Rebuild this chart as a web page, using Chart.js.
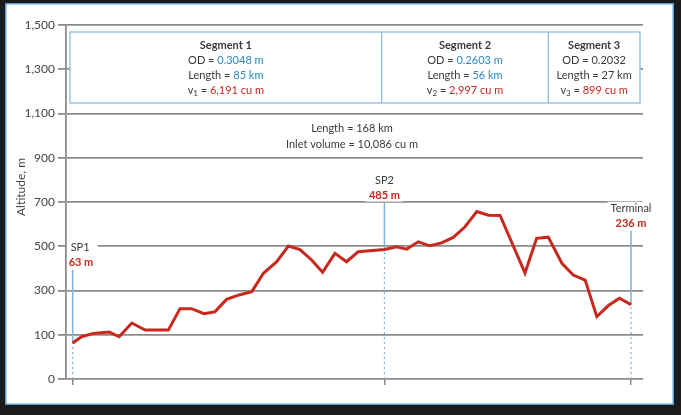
<!DOCTYPE html>
<html>
<head>
<meta charset="utf-8">
<script src="https://cdn.jsdelivr.net/npm/chart.js@4.4.1/dist/chart.umd.min.js"></script>
<style>
    html, body { margin: 0; padding: 0; background: #fff; }
    #wrap { width: 681px; height: 415px; }
</style>
</head>
<body>
<div id="wrap"><canvas id="profileChart" width="681" height="415"></canvas></div>
<script>
// profile position along the drawing (SP1 = 0, terminal = 168) and altitude in m
const profileX = [0, 2.7, 6.2, 11.0, 14.0, 17.8, 21.8, 28.8, 32.3, 35.8, 39.5, 42.8, 46.3, 50.1, 53.9,
    57.4, 61.4, 64.9, 68.4, 71.9, 75.2, 78.9, 82.4, 85.9, 93.8, 97.5, 100.5, 104.0, 107.5, 111.0,
    114.5, 118.0, 121.6, 125.1, 128.6, 136.1, 139.6, 143.1, 147.2, 150.6, 154.2, 157.7, 161.2, 164.5, 168];
const altitude = [63, 91, 106, 112, 91, 153, 121, 121, 218, 218, 195, 204, 260, 280, 295,
    378, 430, 501, 485, 438, 382, 468, 430, 475, 485, 498, 487, 520, 502, 515,
    540, 587, 657, 640, 639, 379, 536, 541, 423, 370, 347, 182, 232, 265, 236];

const stationX = [0, 93.8, 168];
const stationAlt = [63, 485, 236];
const stationName = ['SP1', 'SP2', 'Terminal'];

const yTickLabels = ['0', '100', '300', '500', '700', '900', '1,100', '1,300', '1,500'];

const segName = ['Segment 1', 'Segment 2', 'Segment 3'];
const segOD = ['0.3048 m', '0.2603 m', '0.2032'];
const segLength = [85, 56, 27];
const segVolume = ['6,191', '2,997', '899'];
const totalLength = 168;
const inletVolume = '10,086';

const FONT = 'Lato, "Open Sans", sans-serif';
const DARK = '#3a3a3a';
const BLUE = '#2b88c2';
const RED = '#c8291f';
const STEM = '#7fb2d8';
const GRID = '#8c8c8c';

// parts: [text, colour, isSubscript]
function drawParts(ctx, parts, cx, cy, weight) {
    const fontFor = p => (weight || 'normal') + (p[2] ? ' 8px ' : ' 11px ') + FONT;
    ctx.textAlign = 'left';
    ctx.textBaseline = 'middle';
    const widths = parts.map(p => { ctx.font = fontFor(p); return ctx.measureText(p[0]).width; });
    let x = cx - widths.reduce((a, b) => a + b, 0) / 2;
    parts.forEach((p, i) => {
        ctx.font = fontFor(p);
        ctx.fillStyle = p[1];
        ctx.fillText(p[0], x, p[2] ? cy + 3 : cy);
        x += widths[i];
    });
}

const profileDecor = {
    id: 'profileDecor',
    beforeDraw(chart) {
        const ctx = chart.ctx;
        ctx.save();
        ctx.fillStyle = '#1b1b1b';
        ctx.fillRect(0, 0, chart.width, chart.height);
        ctx.fillStyle = '#fff';
        ctx.fillRect(5, 3, 669, 402);
        ctx.strokeStyle = '#5f9dd3';
        ctx.lineWidth = 1.5;
        ctx.strokeRect(5.75, 3.75, 667.5, 400.5);
        ctx.restore();
    },
    beforeDatasetsDraw(chart) {
        const ctx = chart.ctx;
        const xs = chart.scales.x, ys = chart.scales.y;
        const area = chart.chartArea;
        ctx.save();

        // segment table
        const box = { left: 70, right: 640, top: 32, bottom: 103 };
        const cols = [box.left, 381.7, 548.3, box.right];
        ctx.fillStyle = '#fff';
        ctx.fillRect(box.left, box.top, box.right - box.left, box.bottom - box.top);
        ctx.strokeStyle = '#8dbbdc';
        ctx.lineWidth = 1.3;
        ctx.strokeRect(box.left, box.top, box.right - box.left, box.bottom - box.top);
        ctx.beginPath();
        cols.slice(1, 3).forEach(c => { ctx.moveTo(c, box.top); ctx.lineTo(c, box.bottom); });
        ctx.stroke();
        const valueColor = [BLUE, BLUE, DARK];
        segName.forEach((name, i) => {
            const cx = (cols[i] + cols[i + 1]) / 2;
            drawParts(ctx, [[name, DARK]], cx, 45, 'bold');
            drawParts(ctx, [['OD = ', DARK], [segOD[i], valueColor[i]]], cx, 60);
            drawParts(ctx, [['Length = ', DARK], [segLength[i] + ' km', valueColor[i]]], cx, 75);
            drawParts(ctx, [['v', DARK], [String(i + 1), DARK, true], [' = ', DARK], [segVolume[i] + ' cu m', RED]], cx, 90);
        });

        drawParts(ctx, [['Length = ' + totalLength + ' km', DARK]], 352, 128);
        drawParts(ctx, [['Inlet volume = ' + inletVolume + ' cu m', DARK]], 352, 144);

        // axis title
        ctx.save();
        ctx.translate(21, 187);
        ctx.rotate(-Math.PI / 2);
        ctx.font = '12px ' + FONT;
        ctx.fillStyle = '#444';
        ctx.textAlign = 'center';
        ctx.textBaseline = 'middle';
        ctx.fillText('Altitude, m', 0, 0);
        ctx.restore();

        // station markers
        const lift = [80, 54, 81];
        const align = ['left', 'center', 'center'];
        stationX.forEach((sx, i) => {
            const px = xs.getPixelForValue(sx);
            const py = ys.getPixelForValue(stationAlt[i]);
            const valY = py - lift[i];
            const nameY = valY - 15;

            ctx.strokeStyle = STEM;
            ctx.lineWidth = 1.2;
            ctx.setLineDash([2, 3]);
            ctx.beginPath();
            ctx.moveTo(px, area.bottom);
            ctx.lineTo(px, py);
            ctx.stroke();
            ctx.setLineDash([]);
            ctx.lineWidth = 1.5;
            ctx.beginPath();
            ctx.moveTo(px, py);
            ctx.lineTo(px, valY + 7);
            ctx.stroke();

            ctx.font = '11px ' + FONT;
            const w = Math.max(ctx.measureText(stationName[i]).width, ctx.measureText(stationAlt[i] + ' m').width);
            const lx = align[i] === 'left' ? px - 4 : px - w / 2;
            ctx.fillStyle = '#fff';
            ctx.fillRect(Math.max(area.left + 1, lx - 3), nameY - 7, w + 6, 28);
            ctx.textAlign = 'left';
            ctx.textBaseline = 'middle';
            ctx.fillStyle = DARK;
            const nw = ctx.measureText(stationName[i]).width;
            ctx.fillText(stationName[i], align[i] === 'left' ? lx + 2 : px - nw / 2, nameY);
            ctx.font = 'bold 11px ' + FONT;
            ctx.fillStyle = RED;
            const vw = ctx.measureText(stationAlt[i] + ' m').width;
            ctx.fillText(stationAlt[i] + ' m', align[i] === 'left' ? lx : px - vw / 2, valY);
        });
        ctx.restore();
    }
};

new Chart(document.getElementById('profileChart'), {
    type: 'line',
    data: {
        datasets: [{
            data: profileX.map((x, i) => ({ x: x, y: altitude[i] })),
            borderColor: RED,
            borderWidth: 3,
            pointRadius: 0,
            tension: 0,
            fill: false
        }]
    },
    options: {
        responsive: false,
        animation: false,
        layout: { padding: { left: 0, top: 25, right: 38, bottom: 26 } },
        plugins: {
            legend: { display: false },
            tooltip: { enabled: false }
        },
        scales: {
            x: {
                type: 'linear',
                min: -2,
                max: 171.6,
                afterBuildTicks: s => { s.ticks = stationX.map(v => ({ value: v })); },
                afterFit: s => { s.height = 10; },
                ticks: { display: false },
                grid: { drawOnChartArea: false, drawTicks: true, tickLength: 6, color: GRID, lineWidth: 1.5 },
                border: { display: false }
            },
            y: {
                min: -100,
                max: 1500,
                afterFit: s => { s.width = 66; },
                ticks: {
                    stepSize: 200,
                    padding: 3,
                    color: '#444',
                    font: { family: FONT, size: 12 },
                    callback: (v, i) => yTickLabels[i]
                },
                grid: { color: GRID, lineWidth: 1.8, tickLength: 8 },
                border: { color: GRID, width: 1.8 }
            }
        }
    },
    plugins: [profileDecor]
});
</script>
</body>
</html>
